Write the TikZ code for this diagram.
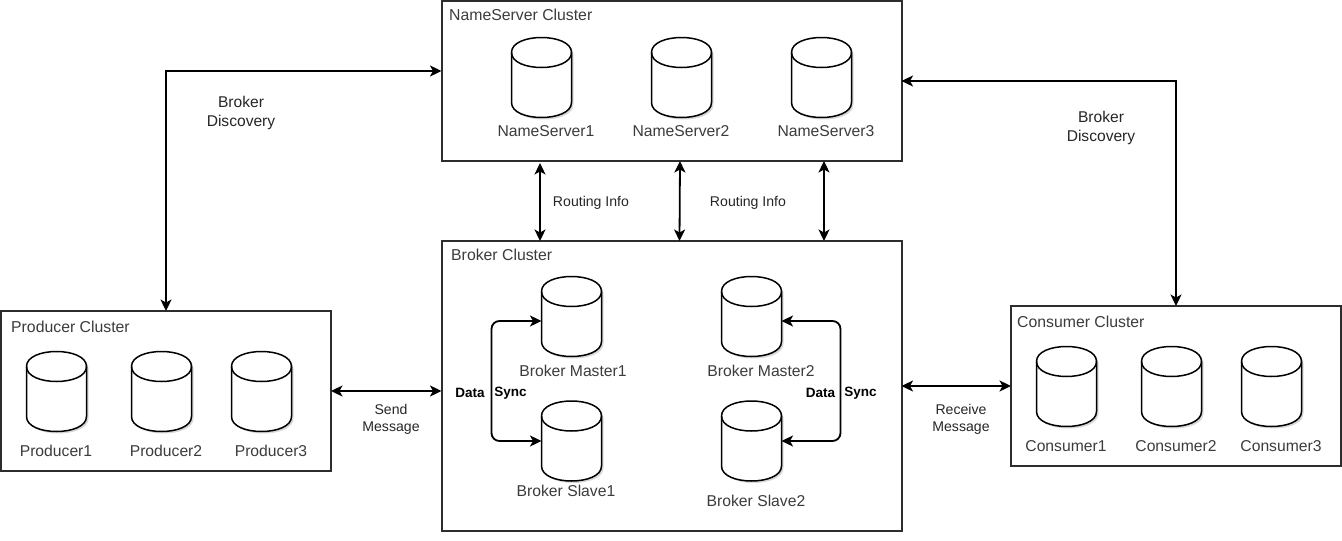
\documentclass[tikz,border=0pt]{standalone}
\usepackage{fontspec}
\setmainfont{Liberation Sans}
\usetikzlibrary{arrows.meta,shadows}
\definecolor{boxgray}{RGB}{45,45,45}
\definecolor{labelgray}{RGB}{60,60,60}
\tikzset{
  cluster/.style={draw=boxgray,line width=2pt,fill=white,inner sep=0pt,outer sep=0pt},
  db/.style={minimum width=60pt,minimum height=80pt,inner sep=0pt,outer sep=0pt},
  dbline/.style={draw=black,line width=1.5pt,fill=white,
    drop shadow={shadow xshift=2pt,shadow yshift=-2pt,opacity=.3}},
  title/.style={anchor=west,inner sep=0pt,text=labelgray,font=\fontsize{15.8}{18}\selectfont},
  dblabel/.style={inner sep=0pt,text=labelgray,font=\fontsize{15.7}{18}\selectfont},
  note/.style={inner sep=0pt,align=center,text=black!85,font=\fontsize{15.6}{19}\selectfont},
  small/.style={inner sep=0pt,align=center,text=black!85,font=\fontsize{14.1}{17}\selectfont},
  sync/.style={inner sep=0pt,font=\fontsize{13.5}{16}\selectfont\bfseries},
  link/.style={<->,line width=1.8pt},
  synclink/.style={link,rounded corners=8pt}
}
\begin{document}
\begin{tikzpicture}[x=1pt,y=-1pt,>={Stealth[length=11.5pt,width=11pt,inset=3pt]}]
 \useasboundingbox[fill=white] (0,0) rectangle (1342,541);
 % the four clusters
 \node[cluster,minimum width=460pt,minimum height=160pt] (nameCluster) at (671.5,81) {};
 \node[cluster,minimum width=460pt,minimum height=290pt] (brokerCluster) at (671.5,386) {};
 \node[cluster,minimum width=330pt,minimum height=160pt] (producerCluster) at (166,391) {};
 \node[cluster,minimum width=330pt,minimum height=160pt] (consumerCluster) at (1176,386) {};
 \node[title] (nameTitle) at (449,14.5) {NameServer Cluster};
 \node[title] (brokerTitle) at (451,254.5) {Broker Cluster};
 \node[title] (producerTitle) at (11,326.5) {Producer Cluster};
 \node[title] (consumerTitle) at (1017,321.5) {Consumer Cluster};
 % cylinders with their labels
 \foreach \n/\x/\y/\lx/\ly/\t in {
   ns1/541.5/77.5/546/131/NameServer1,
   ns2/681.5/77.5/681/131/NameServer2,
   ns3/821.5/77.5/826/131/NameServer3,
   bm1/571.5/316.5/573/371/Broker Master1,
   bm2/751.5/316.5/761/371/Broker Master2,
   bs1/571.5/441/566/491/Broker Slave1,
   bs2/751.5/441/756/501/Broker Slave2,
   p1/56.5/391.5/56/451/Producer1,
   p2/161.5/391.5/166/451/Producer2,
   p3/261.5/391.5/271/451/Producer3,
   c1/1066.5/386.5/1066/446/Consumer1,
   c2/1171.5/386.5/1176/446/Consumer2,
   c3/1271.5/386.5/1281/446/Consumer3}
   {\node[db] (\n) at (\x,\y) {};
    \begin{scope}[shift={(\n)}]
     \path[dbline] (-30,-25) .. controls (-30,-45) and (30,-45) .. (30,-25) -- (30,25)
        .. controls (30,45) and (-30,45) .. (-30,25) -- cycle;
     \draw[line width=1.5pt] (-30,-25) .. controls (-30,-5) and (30,-5) .. (30,-25);
    \end{scope}
    \node[dblabel] (\n label) at (\lx,\ly) {\t};}
 % discovery links
 \draw[link] ([yshift=10pt]nameCluster.west) -| (producerCluster.north);
 \draw[link] (nameCluster.east) -| (consumerCluster.north);
 \node[note] (discoveryLeft) at (241,113) {Broker\\Discovery};
 \node[note] (discoveryRight) at (1101,128) {Broker\\Discovery};
 % routing links
 \draw[link] ([xshift=-131.5pt,yshift=-2pt]nameCluster.south) -- ([xshift=-131.5pt]brokerCluster.north);
 \draw[link] ([xshift=8.5pt]nameCluster.south) -- ([xshift=8pt]brokerCluster.north);
 \draw[link] ([xshift=152.5pt]nameCluster.south) -- ([xshift=152.5pt]brokerCluster.north);
 \node[small] (routingLeft) at (591,203) {Routing Info};
 \node[small] (routingRight) at (748,203) {Routing Info};
 % message links
 \draw[link] (producerCluster.east) -- ([yshift=-5pt]brokerCluster.west);
 \draw[link] (brokerCluster.east) -- (consumerCluster.west);
 \node[small] (sendLabel) at (391,419) {Send\\Message};
 \node[small] (receiveLabel) at (961,419) {Receive\\Message};
 % data sync
 \draw[synclink] ([yshift=-4.5pt]bm1.west) -- ++(-50,0) |- (bs1.west);
 \draw[synclink] ([yshift=-4.5pt]bm2.east) -- ++(59,0) |- (bs2.east);
 \node[sync] (syncLeftA) at (470,393) {Data};
 \node[sync] (syncLeftB) at (510.5,393) {Sync};
 \node[sync] (syncRightA) at (820.5,393) {Data};
 \node[sync] (syncRightB) at (860.5,393) {Sync};
\end{tikzpicture}
\end{document}
